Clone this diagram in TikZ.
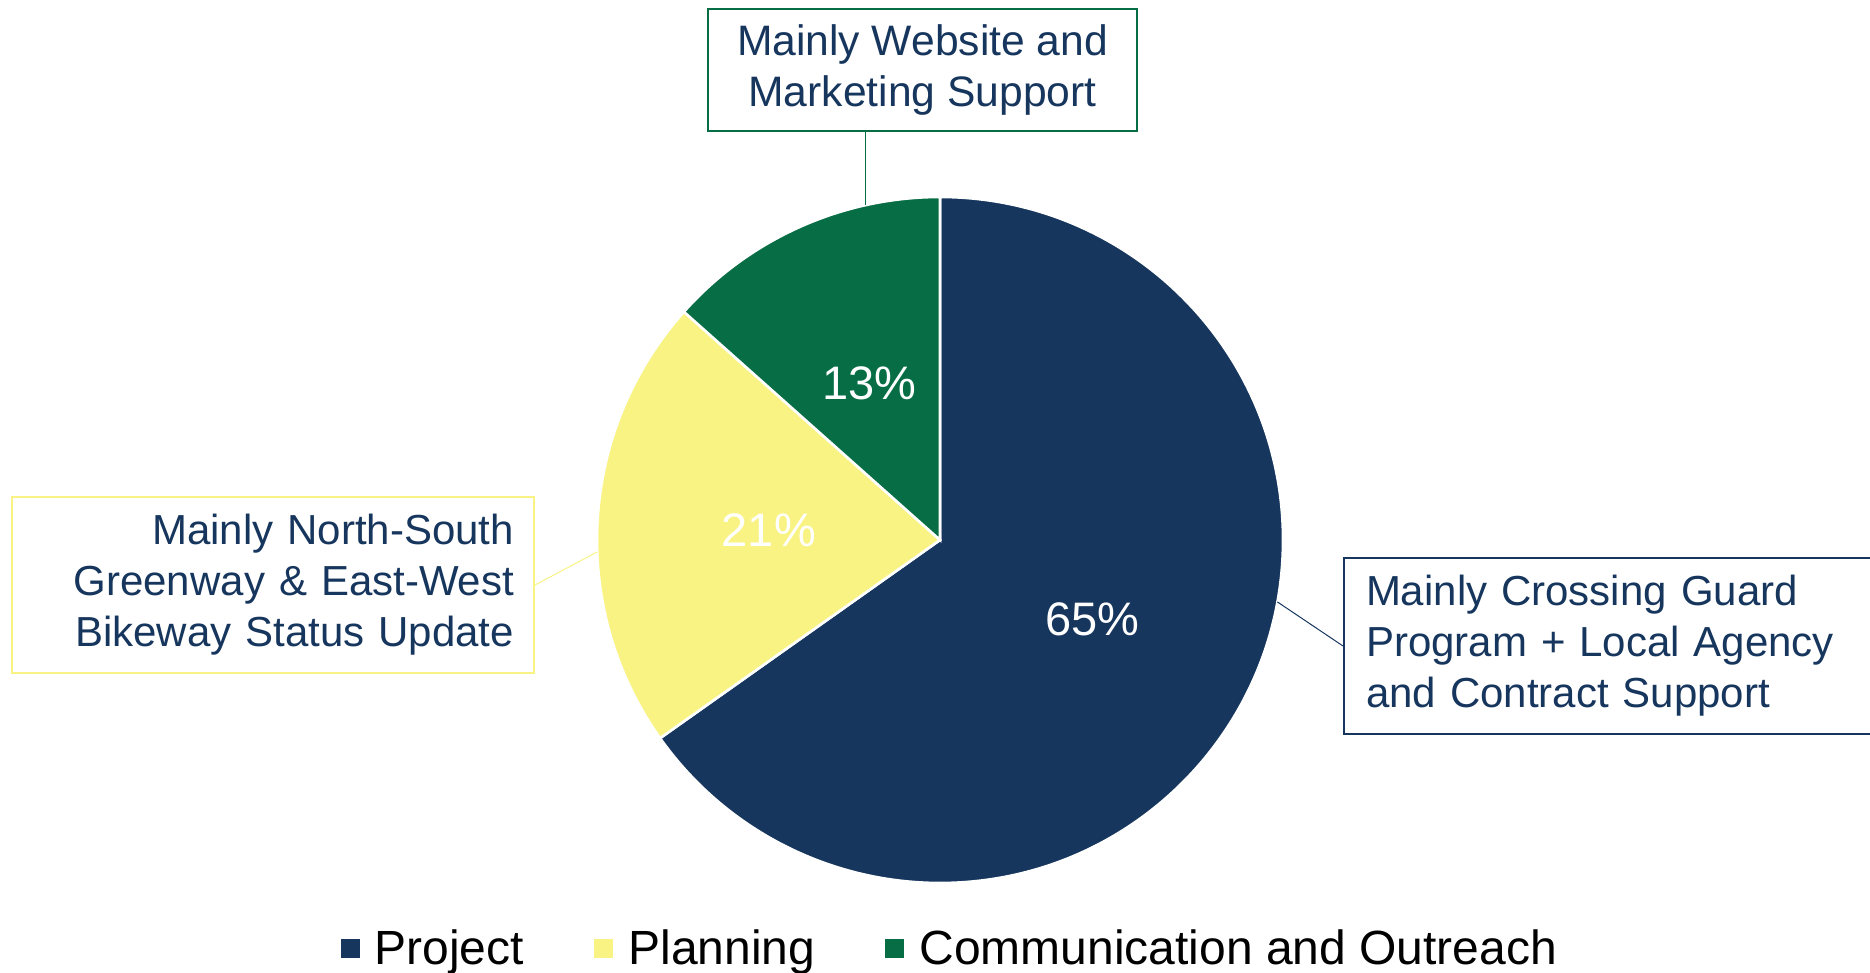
\documentclass[tikz,border=0pt]{standalone}
\usepackage{fontspec}
\setmainfont{Liberation Sans}
\usepackage{xcolor}
\usepackage{tikz}
\usetikzlibrary{calc}

\definecolor{projectblue}{HTML}{17365D}
\definecolor{planyellow}{HTML}{F9F383}
\definecolor{commgreen}{HTML}{066D45}

\tikzset{
  slice/.style = {draw = white, line width = 1.3pt},
  pct/.style = {text = white, font = \fontsize{23.5}{28}\selectfont},
  callout/.style = {rectangle, draw, line width = 1pt, fill = white,
    text = projectblue, inner xsep = 10pt, inner ysep = 6pt,
    font = \fontsize{21.3}{25.5}\selectfont},
  leader/.style = {line width = 0.5pt},
  legendkey/.style = {rectangle, minimum size = 9.5pt, inner sep = 0pt},
  legendtext/.style = {anchor = base west, inner sep = 0pt,
    font = \fontsize{24}{28}\selectfont}
}

\begin{document}
\begin{tikzpicture}[x = 0.5pt, y = 0.5pt]
  \useasboundingbox (0,0) rectangle (1870,973);
  \clip (0,0) rectangle (1870,973);

  \coordinate (c) at (940,433);
  % pie slices
  \filldraw[slice, fill = projectblue] (c) -- ($(c)+(90:343)$)
    arc[start angle = 90, end angle = -144.7, radius = 171.5pt] -- cycle;
  \filldraw[slice, fill = planyellow] (c) -- ($(c)+(215.3:343)$)
    arc[start angle = 215.3, end angle = 138.3, radius = 171.5pt] -- cycle;
  \filldraw[slice, fill = commgreen] (c) -- ($(c)+(138.3:343)$)
    arc[start angle = 138.3, end angle = 90, radius = 171.5pt] -- cycle;

  \node[pct] (projpct) at ($(c)+(-27.4:171.5)$) {65\%};
  \node[pct] (planpct) at ($(c)+(176.8:171.5)$) {21\%};
  \node[pct] (commpct) at ($(c)+(114.2:171.5)$) {13\%};

  % callouts
  \node[callout, draw = commgreen, minimum width = 214.5pt,
    minimum height = 61pt, align = center] (websitebox) at (922.5,903)
    {Mainly Website and\\Marketing Support};
  \node[callout, draw = planyellow, text width = 241pt, align = right,
    minimum height = 88pt, font = \fontsize{21}{25.5}\selectfont]
    (greenwaybox) at (273,388)
    {Mainly North-South\\Greenway \& East-West\\Bikeway Status Update};
  \node[callout, draw = projectblue, text width = 262pt, align = left,
    minimum height = 88pt, inner xsep = 11pt, anchor = west,
    font = \fontsize{21}{25.5}\selectfont] (crossingbox) at (1343,327)
    {Mainly Crossing Guard\\Program + Local Agency\\and Contract Support};

  \coordinate (webend) at ($(c)+(102.6:343)$);
  \coordinate (planend) at ($(c)+(182:343)$);
  \coordinate (projend) at ($(c)+(-10.4:343)$);
  \draw[leader, commgreen] (webend |- websitebox.south) -- (webend);
  \draw[leader, planyellow] (greenwaybox.east) -- (planend);
  \draw[leader, projectblue] (crossingbox.west) -- (projend);

  % legend
  \node[legendkey, fill = projectblue] (projkey) at (350,24) {};
  \node[legendtext] (projlabel) at (374,8.5) {Project};
  \node[legendkey, fill = planyellow] (plankey) at (603.5,24) {};
  \node[legendtext] (planlabel) at (628,8.5) {Planning};
  \node[legendkey, fill = commgreen] (commkey) at (894.5,24) {};
  \node[legendtext] (commlabel) at (919,8.5) {Communication and Outreach};
\end{tikzpicture}
\end{document}
